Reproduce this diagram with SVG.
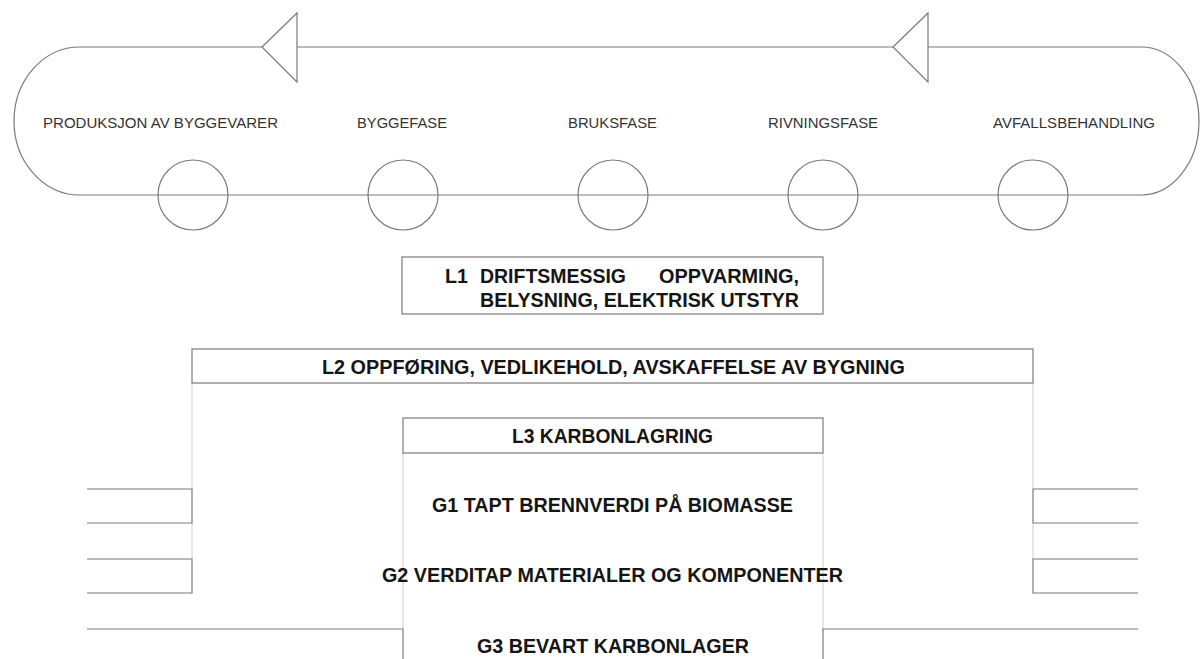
<svg xmlns="http://www.w3.org/2000/svg" width="1200" height="659" viewBox="0 0 1200 659">
<style>
.ln{fill:none;stroke:#7a7a7a;stroke-width:1.2}
.lt{fill:none;stroke:#d8d8d8;stroke-width:1.2}
.box{fill:#fff;stroke:#7a7a7a;stroke-width:1.2}
.ph{font-family:"Liberation Sans",Arial,sans-serif;font-size:15px;fill:#333}
.b{font-family:"Liberation Sans",Arial,sans-serif;font-size:20.5px;font-weight:bold;fill:#151515}
</style>
<rect width="1200" height="659" fill="#fff"/>
<g id="connectors">
<path class="ln" d="M80 47 H262 M297 47 H893 M928 47 H1141 A58 74 0 0 1 1141 195 H80 A66 74 0 0 1 80 47"/>
<path class="lt" d="M192 383 V489 M192 523 V559 M1033 383 V489 M1033 523 V559 M403 453 V629 M823 453 V629"/>
<path class="ln" d="M87 489 H192 V523 H87 M87 559 H192 V593 H87 M87 629 H403 V659"/>
<path class="ln" d="M1138 489 H1033 V523 H1138 M1138 559 H1033 V593 H1138 M1138 629 H823 V659"/>
<polygon class="box" points="262,47 297,13 297,82"/>
<polygon class="box" points="893,47 928,13 928,82"/>
</g>
<g id="phase-produksjon"><circle class="ln" cx="193" cy="195" r="35"/><text class="ph" x="43" y="128" textLength="235" lengthAdjust="spacingAndGlyphs">PRODUKSJON AV BYGGEVARER</text></g>
<g id="phase-byggefase"><circle class="ln" cx="403" cy="195" r="35"/><text class="ph" x="357" y="128" textLength="90" lengthAdjust="spacingAndGlyphs">BYGGEFASE</text></g>
<g id="phase-bruksfase"><circle class="ln" cx="613" cy="195" r="35"/><text class="ph" x="568" y="128" textLength="89" lengthAdjust="spacingAndGlyphs">BRUKSFASE</text></g>
<g id="phase-rivningsfase"><circle class="ln" cx="823" cy="195" r="35"/><text class="ph" x="768" y="128" textLength="110" lengthAdjust="spacingAndGlyphs">RIVNINGSFASE</text></g>
<g id="phase-avfall"><circle class="ln" cx="1033" cy="195" r="35"/><text class="ph" x="993" y="128" textLength="162" lengthAdjust="spacingAndGlyphs">AVFALLSBEHANDLING</text></g>
<g id="L1">
<rect class="box" x="402" y="257" width="421" height="57"/>
<text class="b" y="283"><tspan x="445" textLength="23" lengthAdjust="spacingAndGlyphs">L1</tspan><tspan x="480" textLength="146" lengthAdjust="spacingAndGlyphs">DRIFTSMESSIG</tspan><tspan x="659" textLength="140" lengthAdjust="spacingAndGlyphs">OPPVARMING,</tspan></text>
<text class="b" x="480" y="307" textLength="319" lengthAdjust="spacingAndGlyphs">BELYSNING, ELEKTRISK UTSTYR</text>
</g>
<g id="L2">
<rect class="box" x="192" y="349" width="841" height="34"/>
<text class="b" x="322" y="374" textLength="583" lengthAdjust="spacingAndGlyphs">L2 OPPFØRING, VEDLIKEHOLD, AVSKAFFELSE AV BYGNING</text>
</g>
<g id="L3">
<rect class="box" x="403" y="418" width="420" height="35"/>
<text class="b" x="512" y="443" textLength="201" lengthAdjust="spacingAndGlyphs">L3 KARBONLAGRING</text>
</g>
<g id="G1"><text class="b" x="432" y="512" textLength="361" lengthAdjust="spacingAndGlyphs">G1 TAPT BRENNVERDI PÅ BIOMASSE</text></g>
<g id="G2"><text class="b" x="382" y="582" textLength="461" lengthAdjust="spacingAndGlyphs">G2 VERDITAP MATERIALER OG KOMPONENTER</text></g>
<g id="G3"><text class="b" x="477" y="653" textLength="272" lengthAdjust="spacingAndGlyphs">G3 BEVART KARBONLAGER</text></g>
</svg>
